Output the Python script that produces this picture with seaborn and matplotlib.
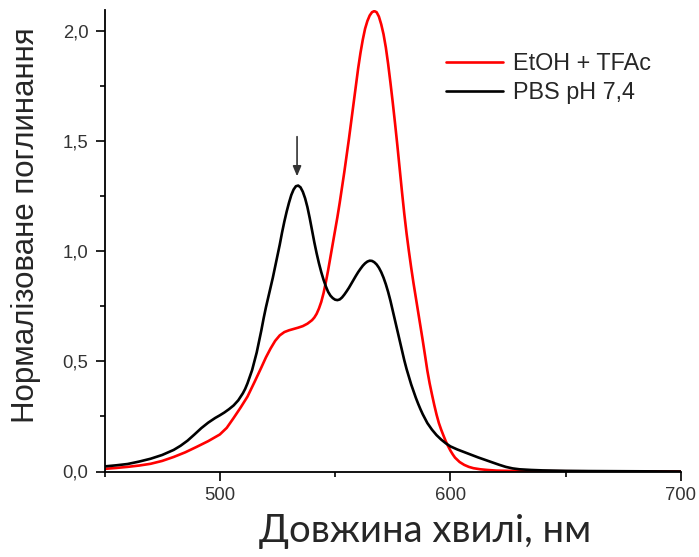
import numpy as np
import pandas as pd
import matplotlib
matplotlib.use("Agg")
import matplotlib.pyplot as plt
import seaborn as sns

# Normalised absorption spectra (wavelength in nm)
wl_etoh = [450, 455, 460, 465, 470, 475, 480, 485, 490, 495, 500, 503, 506, 509,
           512, 515, 518, 520, 522, 524, 526, 528, 530, 532, 534, 536, 538, 540,
           541, 542, 543, 544, 545, 546, 547, 548, 549, 550, 551, 552, 553, 554,
           555, 556, 557, 558, 559, 560, 561, 562, 563, 564, 565, 566, 567, 568,
           569, 570, 571, 572, 573, 574, 575, 576, 577, 578, 579, 580, 581, 582,
           583, 584, 585, 586, 587, 588, 589, 590, 591, 592, 593, 594, 595, 596,
           597, 598, 599, 600, 601, 602, 604, 606, 608, 610, 613, 616, 620, 630,
           650, 700]
abs_etoh = [0.012, 0.016, 0.021, 0.027, 0.035, 0.048, 0.066, 0.087, 0.112, 0.138,
            0.168, 0.198, 0.243, 0.29, 0.34, 0.405, 0.472, 0.518, 0.558, 0.593,
            0.618, 0.633, 0.641, 0.647, 0.653, 0.66, 0.671, 0.687, 0.699, 0.716,
            0.74, 0.77, 0.81, 0.86, 0.915, 0.975, 1.035, 1.095, 1.155, 1.22, 1.29,
            1.36, 1.435, 1.51, 1.59, 1.67, 1.75, 1.83, 1.9, 1.96, 2.01, 2.045,
            2.07, 2.085, 2.09, 2.085, 2.065, 2.03, 1.985, 1.925, 1.85, 1.765,
            1.675, 1.58, 1.48, 1.375, 1.27, 1.17, 1.08, 1.0, 0.925, 0.855, 0.79,
            0.725, 0.66, 0.595, 0.527, 0.458, 0.4, 0.35, 0.302, 0.258, 0.22, 0.19,
            0.163, 0.137, 0.115, 0.095, 0.078, 0.063, 0.043, 0.03, 0.021, 0.015,
            0.01, 0.007, 0.004, 0.002, 0.001, 0.0]

wl_pbs = [450, 455, 460, 465, 470, 475, 480, 483, 486, 489, 492, 495, 498, 500,
          502, 504, 506, 508, 510, 511, 512, 513, 514, 515, 516, 517, 518, 519,
          520, 521, 522, 523, 524, 525, 526, 527, 528, 529, 530, 531, 532, 533,
          534, 535, 536, 537, 538, 539, 540, 541, 542, 543, 544, 545, 546, 547,
          548, 549, 550, 551, 552, 553, 554, 555, 556, 557, 558, 559, 560, 561,
          562, 563, 564, 565, 566, 567, 568, 569, 570, 571, 572, 573, 574, 575,
          576, 577, 578, 579, 580, 581, 582, 583, 584, 585, 586, 587, 588, 589,
          590, 592, 594, 596, 598, 600, 603, 606, 609, 612, 615, 618, 621, 624,
          627, 630, 635, 640, 650, 660, 680, 700]
abs_pbs = [0.023, 0.028, 0.034, 0.045, 0.058, 0.075, 0.098, 0.117, 0.14, 0.168,
           0.197, 0.222, 0.243, 0.255, 0.268, 0.283, 0.3, 0.323, 0.355, 0.375,
           0.4, 0.43, 0.46, 0.5, 0.54, 0.59, 0.64, 0.695, 0.745, 0.79, 0.835,
           0.88, 0.93, 0.98, 1.03, 1.085, 1.135, 1.18, 1.22, 1.255, 1.28, 1.295,
           1.298, 1.29, 1.27, 1.24, 1.2, 1.15, 1.095, 1.04, 0.99, 0.945, 0.905,
           0.87, 0.84, 0.815, 0.798, 0.787, 0.78, 0.778, 0.781, 0.79, 0.803,
           0.818, 0.834, 0.852, 0.87, 0.888, 0.905, 0.92, 0.934, 0.945, 0.953,
           0.957, 0.956, 0.95, 0.94, 0.925, 0.905, 0.88, 0.85, 0.815, 0.775, 0.73,
           0.685, 0.64, 0.595, 0.55, 0.505, 0.465, 0.43, 0.395, 0.365, 0.335,
           0.308, 0.283, 0.26, 0.24, 0.22, 0.19, 0.165, 0.145, 0.128, 0.114, 0.1,
           0.088, 0.076, 0.064, 0.053, 0.042, 0.031, 0.021, 0.014, 0.01, 0.007,
           0.005, 0.003, 0.002, 0.001, 0.0]

series_names = ["EtOH + TFAc", "PBS pH 7,4"]
series_colors = ["#ff0000", "#000000"]

x_ticks = [500, 600, 700]
x_ticklabels = ["500", "600", "700"]
y_ticks = [0.0, 0.5, 1.0, 1.5, 2.0]
y_ticklabels = ["0,0", "0,5", "1,0", "1,5", "2,0"]

# arrow pointing at the short-wavelength band of the PBS spectrum
peak_marker_wl = 533.5
peak_marker_from, peak_marker_to = 1.52, 1.34

df = pd.concat([
    pd.DataFrame({"wl": wl_etoh, "A": abs_etoh, "series": series_names[0]}),
    pd.DataFrame({"wl": wl_pbs, "A": abs_pbs, "series": series_names[1]}),
], ignore_index=True)

sns.set_style("ticks")
plt.rcParams["font.family"] = ["Liberation Sans", "DejaVu Sans"]

fig = plt.figure(figsize=(6.99, 5.57), dpi=100)
ax = fig.add_axes([104.5 / 699, 85.5 / 557, (681 - 104.5) / 699, (471.5 - 10) / 557])

sns.lineplot(data=df, x="wl", y="A", hue="series", hue_order=series_names,
             palette=dict(zip(series_names, series_colors)), estimator=None,
             sort=False, linewidth=1.9, ax=ax)

ax.set_xlim(450, 700)
ax.set_ylim(0, 2.095)
ax.set_xticks(x_ticks)
ax.set_xticklabels(x_ticklabels)
ax.set_xticks([450, 550, 650], minor=True)
ax.set_yticks(y_ticks)
ax.set_yticklabels(y_ticklabels)
ax.set_yticks([0.25, 0.75, 1.25, 1.75], minor=True)
ax.tick_params(axis="both", which="major", direction="out", length=6.5, width=1.2,
               labelsize=13.3, labelcolor="#333333", color="black", pad=5)
ax.tick_params(axis="both", which="minor", direction="out", length=3.5, width=1.2,
               color="black")
for side in ("top", "right"):
    ax.spines[side].set_visible(False)
for side in ("left", "bottom"):
    ax.spines[side].set_linewidth(1.3)
    ax.spines[side].set_color("black")

ax.set_xlabel("")
ax.set_ylabel("")
fig.text(425 / 699, 1 - 531 / 557, "Довжина хвилі, нм", ha="center", va="center",
         fontsize=27.5, family=["Lato", "DejaVu Sans"])
fig.text(26 / 699, 1 - 225 / 557, "Нормалізоване поглинання", ha="center",
         va="center", rotation=90, fontsize=22.5)

ax.annotate("", xy=(peak_marker_wl, peak_marker_to),
            xytext=(peak_marker_wl, peak_marker_from),
            arrowprops=dict(arrowstyle="-|>,head_length=0.6,head_width=0.25",
                            color="#333333", lw=1.2, shrinkA=0, shrinkB=0,
                            mutation_scale=10))

handles, labels = ax.get_legend_handles_labels()
ax.legend(handles, labels, loc="center left",
          bbox_to_anchor=(446 / 699, 1 - 78 / 557), bbox_transform=fig.transFigure,
          frameon=False, fontsize=16.8, borderaxespad=0, borderpad=0,
          handlelength=2.45, handletextpad=0.42, labelspacing=0.28)

fig.savefig("out.png", dpi=100)
